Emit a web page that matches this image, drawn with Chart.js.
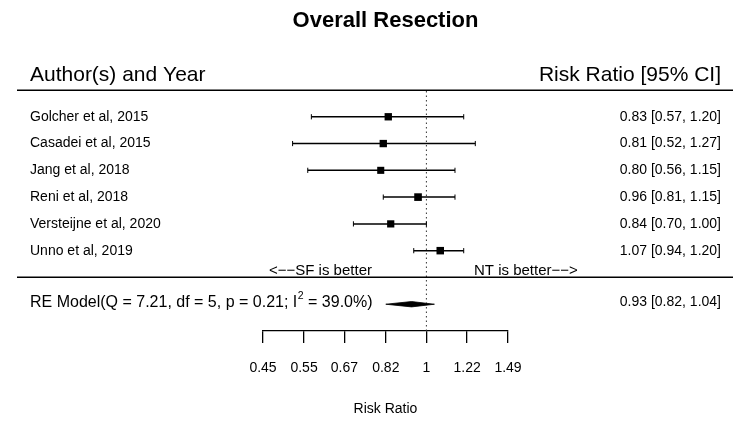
<!DOCTYPE html>
<html>
<head>
<meta charset="utf-8">
<script src="https://cdn.jsdelivr.net/npm/chart.js@4.4.1/dist/chart.umd.min.js"></script>
<style>
  html, body { margin: 0; padding: 0; background: #fff; }
  #wrap { width: 733px; height: 421px; }
</style>
</head>
<body>
<div id="wrap"><canvas id="forest"></canvas></div>
<script>
// study data (top row first)
const studies = ['Golcher et al, 2015', 'Casadei et al, 2015', 'Jang et al, 2018', 'Reni et al, 2018', 'Versteijne et al, 2020', 'Unno et al, 2019'];
const estimates = [0.83, 0.81, 0.80, 0.96, 0.84, 1.07];
const lower = [0.57, 0.52, 0.56, 0.81, 0.70, 0.94];
const upper = [1.20, 1.27, 1.15, 1.15, 1.00, 1.20];

// random effects summary
const reEstimate = 0.93;
const reLower = 0.82;
const reUpper = 1.04;
const reLabel = ['RE Model(Q = 7.21, df = 5, p = 0.21; I', '2', ' = 39.0%)'];

// x axis
const tickValues = [0.45, 0.55, 0.67, 0.82, 1, 1.22, 1.49];
const tickLabels = ['0.45', '0.55', '0.67', '0.82', '1', '1.22', '1.49'];

const FONT = '"Liberation Sans", Arial, sans-serif';
const k = studies.length;
const rows = studies.map(function(s, i) { return k - i; });

function fmt(v) { return v.toFixed(2); }

const datasets = [];

// reference line at 1
datasets.push({
    data: [{x: 1, y: -2}, {x: 1, y: k + 1}],
    showLine: true,
    borderColor: '#333',
    borderWidth: 1,
    borderDash: [1.5, 3],
    pointRadius: 0,
    order: 5
});

// confidence intervals
rows.forEach(function(r, i) {
    datasets.push({
        data: [{x: lower[i], y: r}, {x: upper[i], y: r}],
        showLine: true,
        borderColor: '#000',
        borderWidth: 1.5,
        pointStyle: 'line',
        pointRotation: 90,
        pointRadius: 2.6,
        pointBorderWidth: 1,
        pointBorderColor: '#000',
        order: 3
    });
});

// point estimates
datasets.push({
    data: rows.map(function(r, i) { return {x: estimates[i], y: r}; }),
    pointStyle: 'rect',
    pointRadius: [5.2, 5.2, 5, 5.4, 5.1, 5.3],
    backgroundColor: '#000',
    borderColor: '#000',
    borderWidth: 0,
    order: 1
});

// summary diamond
const dh = 0.1;
datasets.push({
    data: [
        {x: reLower, y: -1},
        {x: reEstimate, y: -1 + dh},
        {x: reUpper, y: -1},
        {x: reEstimate, y: -1 - dh},
        {x: reLower, y: -1}
    ],
    showLine: true,
    fill: 'shape',
    backgroundColor: '#000',
    borderColor: '#000',
    borderWidth: 0.8,
    pointRadius: 0,
    order: 1
});

const textPlugin = {
    id: 'forestText',
    afterDraw: function(chart) {
        const ctx = chart.ctx;
        const y = chart.scales.y;
        const leftX = 30;
        const rightX = 721;
        ctx.save();
        ctx.fillStyle = '#000';
        ctx.strokeStyle = '#000';

        // header rules
        ctx.lineWidth = 1.6;
        [k + 1, 0].forEach(function(v) {
            const py = Math.round(y.getPixelForValue(v)) + 0.25;
            ctx.beginPath();
            ctx.moveTo(17, py);
            ctx.lineTo(733, py);
            ctx.stroke();
        });

        // headers
        ctx.font = '21px ' + FONT;
        ctx.textBaseline = 'alphabetic';
        const hy = y.getPixelForValue(k + 1) - 9;
        ctx.textAlign = 'left';
        ctx.fillText('Author(s) and Year', leftX, hy);
        ctx.textAlign = 'right';
        ctx.fillText('Risk Ratio [95% CI]', rightX, hy);

        // study rows
        ctx.font = '14px ' + FONT;
        ctx.textBaseline = 'middle';
        rows.forEach(function(r, i) {
            const py = y.getPixelForValue(r);
            ctx.textAlign = 'left';
            ctx.fillText(studies[i], leftX, py);
            ctx.textAlign = 'right';
            ctx.fillText(fmt(estimates[i]) + ' [' + fmt(lower[i]) + ', ' + fmt(upper[i]) + ']', rightX, py);
        });

        // direction labels (R draws '-' as a minus sign)
        ctx.font = '15px ' + FONT;
        ctx.textAlign = 'left';
        const ay = y.getPixelForValue(0) - 7;
        ctx.fillText('<\u2212\u2212SF is better', 269, ay);
        ctx.fillText('NT is better\u2212\u2212>', 474, ay);

        // summary row
        const ry = y.getPixelForValue(-1) - 2;
        ctx.font = '16px ' + FONT;
        let x = leftX;
        ctx.fillText(reLabel[0], x, ry);
        x += ctx.measureText(reLabel[0]).width;
        ctx.font = '10.5px ' + FONT;
        ctx.fillText(reLabel[1], x + 0.5, ry - 6);
        x += ctx.measureText(reLabel[1]).width + 0.5;
        ctx.font = '16px ' + FONT;
        ctx.fillText(reLabel[2], x, ry);
        ctx.font = '14px ' + FONT;
        ctx.textAlign = 'right';
        ctx.fillText(fmt(reEstimate) + ' [' + fmt(reLower) + ', ' + fmt(reUpper) + ']', rightX, ry);
        ctx.restore();
    }
};

new Chart(document.getElementById('forest').getContext('2d'), {
    type: 'scatter',
    data: { datasets: datasets },
    options: {
        responsive: true,
        maintainAspectRatio: false,
        animation: false,
        events: [],
        layout: { padding: { left: 263, right: 225, top: 0, bottom: 0 } },
        plugins: {
            legend: { display: false },
            tooltip: { enabled: false },
            title: {
                display: true,
                text: 'Overall Resection',
                color: '#000',
                font: { family: FONT, size: 22, weight: 'bold', lineHeight: 1.2 },
                padding: { top: 8, bottom: 55.6 }
            }
        },
        scales: {
            x: {
                type: 'logarithmic',
                min: 0.45,
                max: 1.49,
                afterBuildTicks: function(scale) {
                    scale.ticks = tickValues.map(function(v) { return {value: v}; });
                },
                afterFit: function(scale) { scale.height = 90; },
                border: { display: true, color: '#000', width: 1.3 },
                grid: { display: true, drawOnChartArea: false, drawTicks: true, tickLength: 12, color: '#000', lineWidth: 1.3 },
                ticks: {
                    autoSkip: false,
                    maxRotation: 0,
                    padding: 17,
                    color: '#000',
                    font: { family: FONT, size: 14 },
                    callback: function(value, index) { return tickLabels[index]; }
                },
                title: {
                    display: true,
                    text: 'Risk Ratio',
                    color: '#000',
                    font: { family: FONT, size: 14 },
                    padding: { top: 0, bottom: 3 }
                }
            },
            y: {
                type: 'linear',
                display: false,
                min: -2,
                max: k + 1
            }
        }
    },
    plugins: [textPlugin]
});
</script>
</body>
</html>
